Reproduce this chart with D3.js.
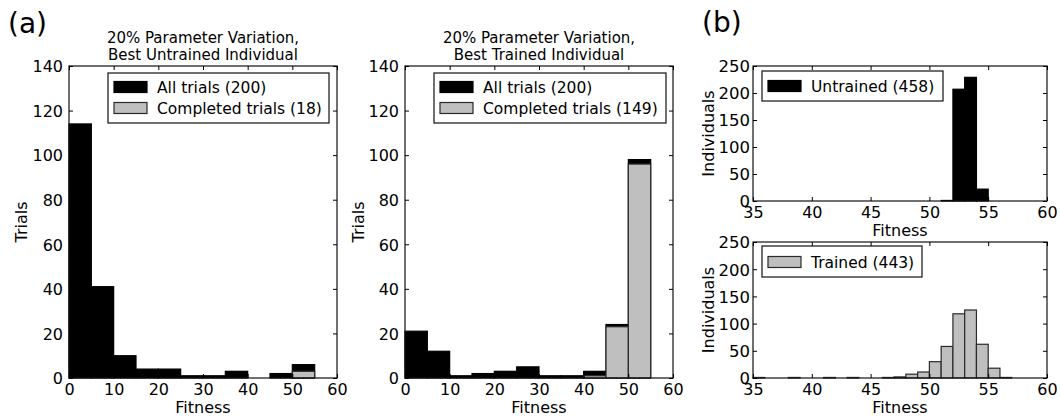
<!DOCTYPE html>
<html><head><meta charset="utf-8">
<script src="https://cdn.jsdelivr.net/npm/d3@7"></script>
<style>body{margin:0;background:#fff}svg{display:block}text{font-family:"DejaVu Sans",sans-serif;fill:#000}</style>
</head><body><svg id="c" width="1060" height="417"></svg>
<script>
// ---- data ----
const binStartsA = [0,5,10,15,20,25,30,35,40,45,50,55];
const untrainedAllTrials = [114,41,10,4,4,1,1,3,0,2,6,0];
const untrainedCompletedTrials = [0,0,0,0,0,0,0,0,0,0,3,0];
const trainedAllTrials = [21,12,1,2,3,5,1,1,3,24,98,0];
const trainedCompletedTrials = [0,0,0,0,0,0,0,0,1,23,96,0];
const binStartsB = [35,36,37,38,39,40,41,42,43,44,45,46,47,48,49,50,51,52,53,54,55,56,57,58,59];
const untrainedIndividuals = [0,0,0,0,0,0,0,0,0,0,0,0,0,0,0,0,1,207,229,22,0,0,0,0,0];
const trainedIndividuals = [1,0,0,1,0,0,1,0,1,0,0,1,2,7,11,30,58,118,125,62,18,1,0,0,0];
const xTicksA = [0,10,20,30,40,50,60];
const yTicksA = [0,20,40,60,80,100,120,140];
const xTicksB = [35,40,45,50,55,60];
const yTicksB = [0,50,100,150,200,250];
const titleA1 = ["20% Parameter Variation,", "Best Untrained Individual"];
const titleA2 = ["20% Parameter Variation,", "Best Trained Individual"];
const legendA1 = ["All trials (200)", "Completed trials (18)"];
const legendA2 = ["All trials (200)", "Completed trials (149)"];
const legendB1 = ["Untrained (458)"];
const legendB2 = ["Trained (443)"];

const BLACK = "#000", GRAY = "#bfbfbf";
const svg = d3.select("#c");

function panel(o){
  const x = d3.scaleLinear().domain(o.xDomain).range([o.left, o.right]);
  const y = d3.scaleLinear().domain(o.yDomain).range([o.bottom, o.top]);
  const g = svg.append("g");
  // bars
  o.series.forEach(s => {
    const d = o.bins.map((b,i)=>({b, v:s.values[i]})).filter(e=>e.v>0);
    g.selectAll(null).data(d).enter().append("rect")
      .attr("x", e=>x(e.b)).attr("width", e=>x(e.b+o.binWidth)-x(e.b))
      .attr("y", e=>y(e.v)).attr("height", e=>y(0)-y(e.v))
      .attr("fill", s.color).attr("stroke", s.color===BLACK? "#000":"#2a2a2a")
      .attr("stroke-width", 1.2);
  });
  // frame
  g.append("rect").attr("x",o.left).attr("y",o.top).attr("width",o.right-o.left).attr("height",o.bottom-o.top)
    .attr("fill","none").attr("stroke","#111").attr("stroke-width",1.2);
  // axes (ticks inside, on all sides)
  const tl = 4;
  const ax = d3.axisBottom(x).tickValues(o.xTicks).tickSize(-tl).tickPadding(0).tickFormat(d3.format("d"));
  const gxb = g.append("g").attr("transform",`translate(0,${o.bottom})`).call(ax);
  gxb.select(".domain").remove();
  gxb.selectAll("text").attr("y", 17).attr("dy",0).style("font-size","16px").style("font-family","DejaVu Sans");
  const gxt = g.append("g").attr("transform",`translate(0,${o.top})`).call(d3.axisTop(x).tickValues(o.xTicks).tickSize(-tl).tickFormat(""));
  gxt.select(".domain").remove();
  const ay = d3.axisLeft(y).tickValues(o.yTicks).tickSize(-tl).tickPadding(0).tickFormat(d3.format("d"));
  const gyl = g.append("g").attr("transform",`translate(${o.left},0)`).call(ay);
  gyl.select(".domain").remove();
  gyl.selectAll("text").attr("x", -o.yPad).attr("dy","0.36em").style("font-size",o.yFont+"px").style("font-family","DejaVu Sans");
  const gyr = g.append("g").attr("transform",`translate(${o.right},0)`).call(d3.axisRight(y).tickValues(o.yTicks).tickSize(-tl).tickFormat(""));
  gyr.select(".domain").remove();
  g.selectAll(".tick line").attr("stroke","#000").attr("stroke-width",1);
  // x label
  g.append("text").attr("x",(o.left+o.right)/2).attr("y",o.bottom+35).attr("text-anchor","middle")
    .style("font-size","16px").text("Fitness");
  // y label
  g.append("text").attr("transform",`translate(${o.ylabelX},${(o.top+o.bottom)/2}) rotate(-90)`)
    .attr("dy","0.35em").attr("text-anchor","middle").style("font-size","16px").text(o.ylabel);
  // title
  if(o.title){
    o.title.forEach((t,i)=>g.append("text").attr("x",(o.left+o.right)/2).attr("y",43+i*17)
      .attr("text-anchor","middle").style("font-size","15px").text(t));
  }
  // legend
  const L = o.legend;
  g.append("rect").attr("x",L.x0).attr("y",L.y0).attr("width",L.x1-L.x0).attr("height",L.y1-L.y0)
    .attr("fill","#fff").attr("stroke","#111").attr("stroke-width",1.2);
  L.labels.forEach((t,i)=>{
    const cy = L.firstY + i*L.step;
    g.append("rect").attr("x",L.x0+6).attr("y",cy-5.5).attr("width",33).attr("height",11)
      .attr("fill",o.series[i].color).attr("stroke",o.series[i].color===BLACK?"#000":"#2a2a2a").attr("stroke-width",1.2);
    g.append("text").attr("x",L.x0+49).attr("y",cy+5.5).style("font-size","15.5px").text(t);
  });
}

panel({left:69,right:337,top:66,bottom:378,xDomain:[0,60],yDomain:[0,140],bins:binStartsA,binWidth:5,
  xTicks:xTicksA,yTicks:yTicksA,yPad:6,yFont:16,ylabel:"Trials",ylabelX:21,title:titleA1,
  series:[{color:BLACK,values:untrainedAllTrials},{color:GRAY,values:untrainedCompletedTrials}],
  legend:{x0:108,x1:329,y0:73,y1:123,firstY:87,step:21,labels:legendA1}});
panel({left:405,right:673,top:66,bottom:378,xDomain:[0,60],yDomain:[0,140],bins:binStartsA,binWidth:5,
  xTicks:xTicksA,yTicks:yTicksA,yPad:6,yFont:16,ylabel:"Trials",ylabelX:358,title:titleA2,
  series:[{color:BLACK,values:trainedAllTrials},{color:GRAY,values:trainedCompletedTrials}],
  legend:{x0:434,x1:666,y0:73,y1:123,firstY:87,step:21,labels:legendA2}});
panel({left:753,right:1047,top:66,bottom:201,xDomain:[35,60],yDomain:[0,250],bins:binStartsB,binWidth:1,
  xTicks:xTicksB,yTicks:yTicksB,yPad:3,yFont:16.5,ylabel:"Individuals",ylabelX:708,title:null,
  series:[{color:BLACK,values:untrainedIndividuals}],
  legend:{x0:762,x1:943,y0:71,y1:101,firstY:86,step:0,labels:legendB1}});
panel({left:753,right:1047,top:242,bottom:378,xDomain:[35,60],yDomain:[0,250],bins:binStartsB,binWidth:1,
  xTicks:xTicksB,yTicks:yTicksB,yPad:3,yFont:16.5,ylabel:"Individuals",ylabelX:708,title:null,
  series:[{color:GRAY,values:trainedIndividuals}],
  legend:{x0:762,x1:922,y0:246,y1:277,firstY:262,step:0,labels:legendB2}});

svg.append("text").attr("x",8).attr("y",33).style("font-size","28px").text("(a)");
svg.append("text").attr("x",702).attr("y",32).style("font-size","28px").text("(b)");
</script></body></html>
